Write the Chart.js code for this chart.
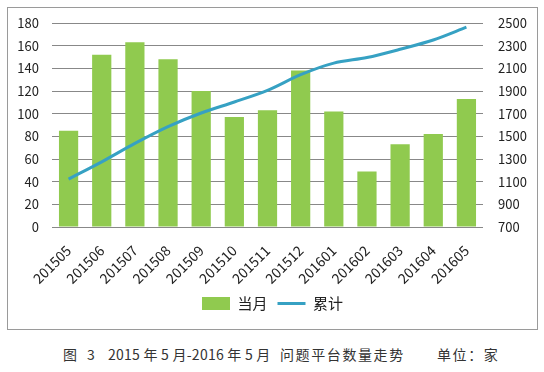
<!DOCTYPE html>
<html>
<head>
<meta charset="utf-8">
<script src="https://cdn.jsdelivr.net/npm/chart.js@4"></script>
<style>
  body { margin: 0; background: #fff; width: 544px; height: 372px; position: relative; overflow: hidden; }
  #box { position: absolute; left: 7px; top: 7px; width: 531px; height: 323px; border: 1px solid #9a9a9a; box-sizing: border-box; }
  #box canvas { display: block; }
  .cap { position: absolute; top: 344px; font: 14px "Noto Sans CJK SC", sans-serif; color: #333; white-space: pre; }
  .zh { letter-spacing: 1.6px; }
</style>
</head>
<body>
<div id="box"><canvas id="chart" width="529" height="321"></canvas></div>
<div class="cap" style="left:63px">图</div>
<div class="cap" style="left:87px">3</div>
<div class="cap" style="left:108px; letter-spacing:0.25px">2015 年 5 月-2016 年 5 月</div>
<div class="cap zh" style="left:280px">问题平台数量走势</div>
<div class="cap zh" style="left:437px">单位：家</div>
<script>
// 数据
const months = ['201505', '201506', '201507', '201508', '201509', '201510', '201511',
  '201512', '201601', '201602', '201603', '201604', '201605'];
const monthly = [85, 152, 163, 148, 120, 97, 103, 138, 102, 49, 73, 82, 113];
const cumulative = [1123, 1275, 1438, 1586, 1706, 1803, 1906, 2044, 2146, 2195, 2268, 2350, 2463];

const font = "'Noto Sans CJK SC', sans-serif";

const ctx = document.getElementById('chart').getContext('2d');
new Chart(ctx, {
  data: {
    labels: months,
    datasets: [
      {
        type: 'line',
        label: '累计',
        data: cumulative,
        yAxisID: 'y2',
        borderColor: '#36a1c3',
        backgroundColor: '#36a1c3',
        borderWidth: 3,
        pointRadius: 0,
        pointStyle: 'line',
        tension: 0.3,
        order: 1
      },
      {
        type: 'bar',
        label: '当月',
        data: monthly,
        yAxisID: 'y',
        backgroundColor: '#90ca4f',
        barPercentage: 0.58,
        categoryPercentage: 1,
        pointStyle: 'rect',
        order: 2
      }
    ]
  },
  options: {
    responsive: false,
    animation: false,
    layout: { padding: { top: 15, bottom: 8, left: 0, right: 0 } },
    plugins: {
      tooltip: { enabled: false },
      legend: {
        position: 'bottom',
        reverse: true,
        labels: {
          usePointStyle: true,
          pointStyleWidth: 28,
          boxHeight: 13,
          padding: 10,
          color: '#222',
          font: { family: font, size: 15 }
        }
      }
    },
    scales: {
      x: {
        grid: { display: false },
        border: { display: false },
        ticks: {
          color: '#222',
          font: { family: font, size: 14 },
          padding: 7,
          maxRotation: 45,
          minRotation: 45,
          autoSkip: false
        },
        afterFit: (scale) => { scale.height = 59; }
      },
      y: {
        position: 'left',
        min: 0,
        max: 180,
        // 刻度线透明，只用来把标签推开
        grid: { color: '#888', drawTicks: true, tickLength: 11, tickColor: 'rgba(0,0,0,0)' },
        border: { display: false },
        ticks: { stepSize: 20, padding: 2, color: '#222', font: { family: font, size: 13 } },
        afterFit: (scale) => { scale.width = 44; }
      },
      y2: {
        position: 'right',
        min: 700,
        max: 2500,
        grid: { display: true, drawOnChartArea: false, drawTicks: true, tickLength: 13, tickColor: 'rgba(0,0,0,0)' },
        border: { display: false },
        ticks: {
          stepSize: 200, padding: 2, color: '#222', font: { family: font, size: 13 },
          callback: (v) => String(v)
        },
        afterFit: (scale) => { scale.width = 54; }
      }
    }
  }
});
</script>
</body>
</html>
